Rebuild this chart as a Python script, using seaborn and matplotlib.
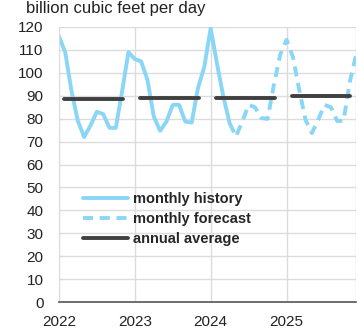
import numpy as np
import pandas as pd
import matplotlib
matplotlib.use("Agg")
import matplotlib.pyplot as plt
import seaborn as sns

# monthly consumption, billion cubic feet per day
history = [116, 109, 92, 79, 72, 77, 83, 82, 76, 76, 92, 109,
           106, 105, 97, 81, 74.7, 78.7, 86, 86, 78.7, 78.3, 93.4, 102.7,
           119.5, 104, 89.7, 78]
forecast = [78, 72.2, 78.7, 86, 85, 80.3, 79.9, 94.8, 107.9,
            114.4, 107, 92.6, 79.5, 73.7, 79.5, 86, 85, 79, 79, 96, 107.9]
annual_avg = [88.5, 89, 89.1, 89.7]
years = [2022, 2023, 2024, 2025]

hist_df = pd.DataFrame({"month": np.arange(len(history)), "value": history})
fc_df = pd.DataFrame({"month": np.arange(len(history) - 1, len(history) - 1 + len(forecast)),
                      "value": forecast})

sns.set_style("white")
plt.rcParams["font.family"] = ["Liberation Sans", "DejaVu Sans"]

fig, ax = plt.subplots(figsize=(3.59, 3.29), dpi=100)
fig.subplots_adjust(left=0.164, right=0.992, bottom=0.082, top=0.918)

blue = "#8ad6f6"
grey = "#404040"

sns.lineplot(data=hist_df, x="month", y="value", ax=ax, color=blue, lw=2.8,
             label="monthly history")
sns.lineplot(data=fc_df, x="month", y="value", ax=ax, color=blue, lw=2.8,
             linestyle=(0, (2.6, 1.7)), label="monthly forecast")
for i, v in enumerate(annual_avg):
    ax.plot([12 * i + 0.8, 12 * i + 10.1], [v, v], color=grey, lw=2.8,
            solid_capstyle="round", label="annual average" if i == 0 else None)

ax.set_xlim(0, 47)
ax.set_ylim(0, 120)
ax.set_yticks(range(0, 121, 10))
ax.set_xticks([12 * i for i in range(len(years))])
ax.set_xticklabels([str(y) for y in years])
ax.set_xticks([47], minor=True)
ax.grid(True, which="both", color="#dcdcdc", lw=1)
ax.set_axisbelow(True)
ax.set_xlabel("")
ax.set_ylabel("")
ax.tick_params(axis="y", labelsize=11, colors="#222222", length=0, pad=11)
ax.tick_params(axis="x", which="major", labelsize=11, labelcolor="#222222",
               length=4, direction="out", width=1, color="#555555", pad=5)
ax.tick_params(axis="x", which="minor", length=0)
for s in ["top", "right"]:
    ax.spines[s].set_visible(False)
ax.spines["left"].set_color("#dcdcdc")
ax.spines["bottom"].set_color("#555555")
ax.spines["bottom"].set_linewidth(1.2)

ax.legend(loc="center left", bbox_to_anchor=(0.081, 0.302), frameon=False,
          prop={"weight": "bold", "size": 10.5}, handlelength=3.1,
          handletextpad=0.35, labelspacing=0.42, borderaxespad=0, borderpad=0)

fig.text(26 / 359, 1 - 12.5 / 329, "billion cubic feet per day", ha="left", va="baseline",
         fontsize=12, color="#222222")

fig.savefig("out.png", dpi=100)
